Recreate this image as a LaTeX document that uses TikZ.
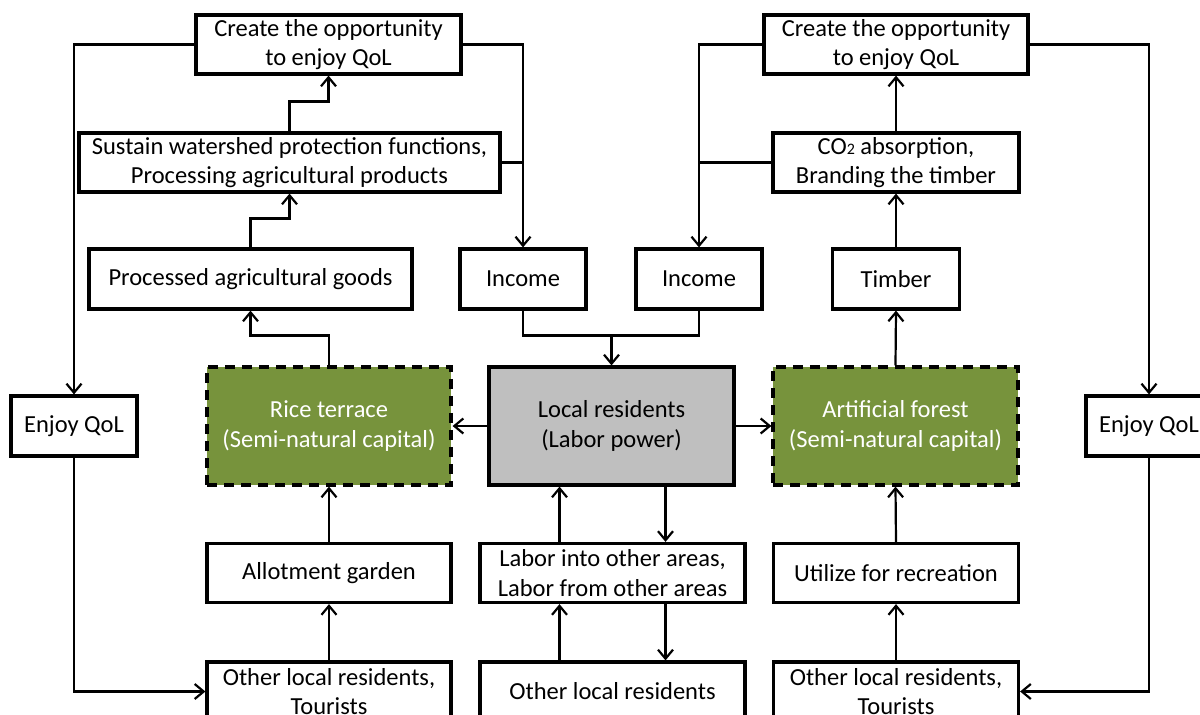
\documentclass[tikz,border=0pt]{standalone}
\usepackage{fontspec}
\setmainfont{Carlito}
\usetikzlibrary{arrows.meta}
\definecolor{capgreen}{HTML}{77933C}
\definecolor{labgray}{HTML}{BFBFBF}
\begin{document}
\begin{tikzpicture}[x=1pt,y=-1pt,
  box/.style={draw, line width=3.2pt, fill=white, inner sep=0pt, align=center,
    font=\fontsize{24.5}{29.5}\selectfont, minimum height=59pt},
  capital/.style={box, fill=capgreen, text=white, dash pattern=on 10pt off 7pt,
    minimum height=118pt},
  labour/.style={box, fill=labgray, minimum height=118pt},
  conn/.style={line width=2.2pt},
  arr/.style={conn, -{Straight Barb[length=9pt,width=15pt,line width=2.2pt]}}]
\useasboundingbox (0,0) rectangle (1200,715);
\clip (0,0) rectangle (1200,715);
\fill[white] (0,0) rectangle (1200,715);

% top row: opportunities
\node[box, minimum width=265pt] (cL) at (328.5,44.5) {Create the opportunity\\to enjoy QoL};
\node[box, minimum width=264pt] (cR) at (896,44.5) {Create the opportunity\\to enjoy QoL};

% functions
\node[box, minimum width=421pt] (sus) at (289.5,162.5) {Sustain watershed protection functions,\\Processing agricultural products};
\node[box, minimum width=246pt] (co2) at (896,162.5) {CO{\fontsize{16}{16}\selectfont 2} absorption,\\Branding the timber};

% products and income
\node[box, minimum width=323pt, minimum height=60pt] (proc) at (250.5,279) {Processed agricultural goods};
\node[box, minimum width=126pt, minimum height=60pt] (incL) at (523,279) {Income};
\node[box, minimum width=126pt, minimum height=60pt] (incR) at (699,279) {Income};
\node[box, minimum width=127pt, minimum height=60pt] (timber) at (896,279) {Timber};

% middle row
\node[box, minimum width=126pt, minimum height=60pt] (enjL) at (74,426) {Enjoy QoL};
\node[box, minimum width=126pt, minimum height=60pt] (enjR) at (1149,426) {Enjoy QoL};
\node[capital, minimum width=244pt] (rice) at (329,426) {Rice terrace\\(Semi-natural capital)};
\node[labour, minimum width=245pt] (local) at (611.5,426) {Local residents\\(Labor power)};
\node[capital, minimum width=245pt] (forest) at (895.5,426) {Artificial forest\\(Semi-natural capital)};

% uses
\node[box, minimum width=244pt] (allot) at (329,573) {Allotment garden};
\node[box, minimum width=265pt] (labor) at (612.5,573) {Labor into other areas,\\Labor from other areas};
\node[box, minimum width=245pt] (util) at (896,573) {Utilize for recreation};

% users
\node[box, minimum width=244pt] (othL) at (329,691.5) {Other local residents,\\Tourists};
\node[box, minimum width=265pt] (othC) at (612.5,691.5) {Other local residents};
\node[box, minimum width=245pt] (othR) at (896,691.5) {Other local residents,\\Tourists};

% left loop
\draw[arr] (cL.west) -| (enjL.north);
\draw[arr] (enjL.south) |- (othL.west);
\draw[arr] (cL.east) -| (incL.north);
\draw[conn] (sus.east) -- (sus.east -| incL.north);
\draw[arr] (sus.north) -- ++(0,-30) -| (cL.south);
\draw[arr] (proc.north) -- ++(0,-29) -| (sus.south);
\draw[arr] (rice.north) -- ++(0,-30) -| (proc.south);
\draw[arr] (allot.north) -- (rice.south);
\draw[arr] (othL.north) -- (allot.south);

% right loop
\draw[arr] (cR.west) -| (incR.north);
\draw[conn] (co2.west) -- (co2.west -| incR.north);
\draw[arr] (co2.north) -- (cR.south);
\draw[arr] (timber.north) -- (co2.south);
\draw[arr] (forest.north) -- (timber.south);
\draw[arr] (cR.east) -| (enjR.north);
\draw[arr] (enjR.south) |- (othR.east);
\draw[arr] (util.north) -- (forest.south);
\draw[arr] (othR.north) -- (util.south);

% income into labour
\path (local.north) ++(0,-30) coordinate (mrg);
\draw[conn] (incL.south) |- (mrg) -| (incR.south);
\draw[arr] (mrg) -- (local.north);
\draw[arr] (local.west) -- (rice.east);
\draw[arr] (local.east) -- (forest.west);

% labour exchange
\coordinate (upA) at ([xshift=-53pt]labor.north);
\coordinate (dnA) at ([xshift=53pt]labor.north);
\coordinate (upB) at ([xshift=-53pt]othC.north);
\coordinate (dnB) at ([xshift=53pt]othC.north);
\draw[arr] (upA) -- (upA |- local.south);
\draw[arr] (dnA |- local.south) -- (dnA);
\draw[arr] (upB) -- (upB |- labor.south);
\draw[arr] (dnB |- labor.south) -- (dnB);
\end{tikzpicture}
\end{document}
